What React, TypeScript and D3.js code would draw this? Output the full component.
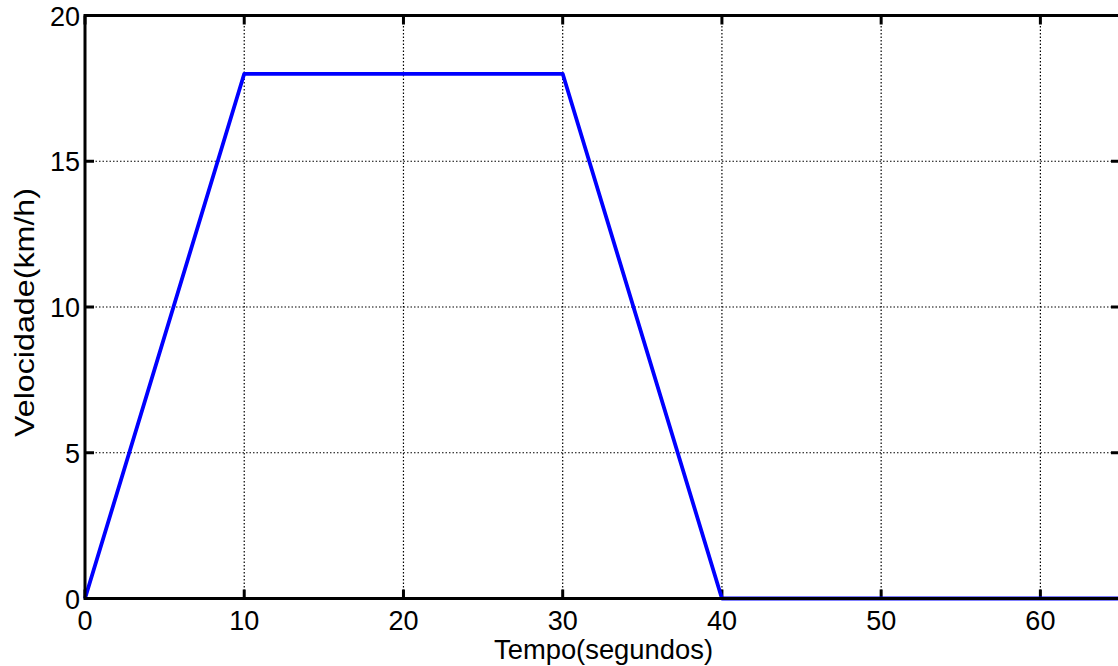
import React from "react";
import * as d3 from "d3";

const tempo = [0, 10, 30, 40, 65];
const velocidade = [0, 18, 18, 0, 0];
const xTicks = [0, 10, 20, 30, 40, 50, 60];
const yTicks = [0, 5, 10, 15, 20];

export default function App() {
  const W = 1118, H = 666;
  const left = 85, right = 1120, top = 15.5, bottom = 598.5;
  const x = d3.scaleLinear().domain([0, 65]).range([left, right]);
  const y = d3.scaleLinear().domain([0, 20]).range([bottom, top]);
  const pts: [number, number][] = tempo.map((t, i) => [t, velocidade[i]]);
  const line = d3.line<[number, number]>().x(d => x(d[0])).y(d => y(d[1]));
  const font = "'Liberation Sans', Arial, sans-serif";
  const fs = 27;
  return (
    <svg width={W} height={H} style={{ position: "absolute", left: 0, top: 0, background: "#fff" }}>
      <rect x={0} y={0} width={W} height={H} fill="#fff" />
      {/* grid */}
      {xTicks.filter(t => t > 0).map(t => (
        <line key={"gx" + t} x1={x(t)} x2={x(t)} y1={top} y2={bottom} stroke="#000" strokeWidth={1.2} strokeDasharray="1.5,2" />
      ))}
      {yTicks.filter(t => t > 0 && t < 20).map(t => (
        <line key={"gy" + t} x1={left} x2={right} y1={y(t)} y2={y(t)} stroke="#000" strokeWidth={1.2} strokeDasharray="1.5,2" />
      ))}
      {/* ticks */}
      {xTicks.map(t => (
        <g key={"tx" + t}>
          <line x1={x(t)} x2={x(t)} y1={bottom} y2={bottom - 9} stroke="#000" strokeWidth={3} />
          <line x1={x(t)} x2={x(t)} y1={top} y2={top + 9} stroke="#000" strokeWidth={3} />
        </g>
      ))}
      {yTicks.map(t => (
        <g key={"ty" + t}>
          <line x1={left} x2={left + 9} y1={y(t)} y2={y(t)} stroke="#000" strokeWidth={3} />
          <line x1={right} x2={right - 9} y1={y(t)} y2={y(t)} stroke="#000" strokeWidth={3} />
        </g>
      ))}
      {/* data */}
      <path d={line(pts) || ""} fill="none" stroke="#0000ff" strokeWidth={3.8} strokeLinejoin="round" />
      {/* frame */}
      <rect x={left} y={top} width={right - left} height={bottom - top} fill="none" stroke="#000" strokeWidth={3} />
      {/* tick labels */}
      {xTicks.map(t => (
        <text key={"lx" + t} x={x(t)} y={630} textAnchor="middle" fontFamily={font} fontSize={fs} fill="#000">{t}</text>
      ))}
      {yTicks.map(t => (
        <text key={"ly" + t} x={80} y={y(t) + 10} textAnchor="end" fontFamily={font} fontSize={fs} fill="#000">{t}</text>
      ))}
      <text x={603.5} y={659} textAnchor="middle" fontFamily={font} fontSize={fs} fill="#000" textLength={219} lengthAdjust="spacingAndGlyphs">Tempo(segundos)</text>
      <text transform={`translate(33.5, 312.5) rotate(-90)`} textAnchor="middle" fontFamily={font} fontSize={fs} fill="#000" textLength={249} lengthAdjust="spacingAndGlyphs">Velocidade(km/h)</text>
    </svg>
  );
}
